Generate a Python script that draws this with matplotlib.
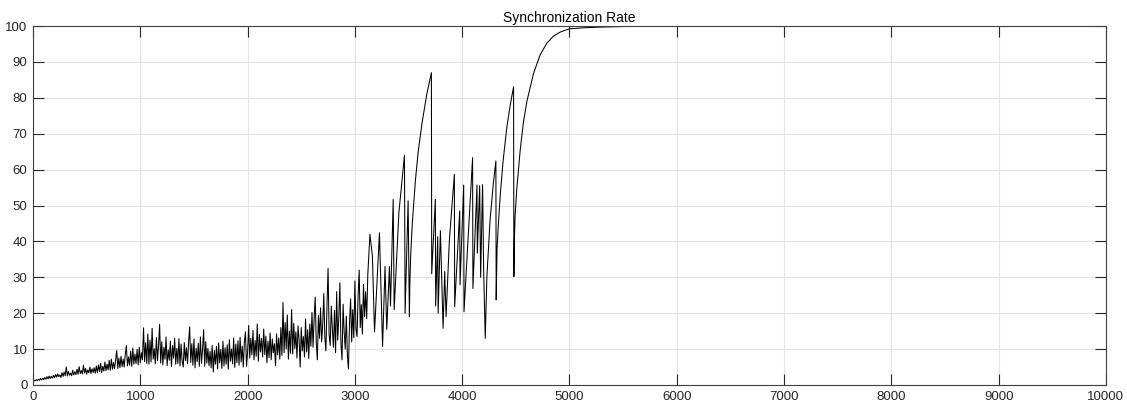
import numpy as np
import matplotlib.pyplot as plt

plt.rcParams["font.family"] = ["Liberation Sans", "DejaVu Sans"]

# noisy phase, one value every 10 steps
early_rate = [
    1.0, 1.3, 1.1, 1.5, 1.2, 1.6, 1.3, 1.8, 1.4, 1.9, 1.5, 2.1, 1.6, 2.3, 1.7, 2.5, 1.8, 2.4, 1.9, 2.7,
    2.0, 2.9, 2.2, 3.1, 2.3, 2.8, 2.1, 3.4, 2.4, 3.6, 2.6, 5.0, 2.5, 3.8, 2.7, 3.3, 2.6, 4.1, 2.8, 3.7,
    2.9, 4.4, 3.0, 5.1, 3.2, 4.0, 3.1, 5.5, 3.3, 4.6, 3.0, 4.2, 3.4, 5.0, 3.2, 4.5, 3.5, 4.8, 3.3, 5.3,
    3.4, 5.6, 3.7, 6.0, 3.5, 5.2, 3.9, 6.4, 4.0, 5.8, 4.2, 6.9, 4.1, 7.2, 4.4, 6.3, 4.5, 7.0, 9.6, 4.6,
    7.5, 4.8, 8.0, 5.1, 7.2, 5.0, 8.6, 11.0, 5.3, 7.8, 5.5, 9.4, 5.2, 10.3, 5.8, 8.6, 6.0, 9.9, 5.6, 10.5,
    6.2, 9.0, 7.0, 15.9, 6.5, 11.8, 6.0, 14.2, 5.8, 12.5, 6.4, 15.8, 7.2, 10.1, 5.9, 13.2, 6.8, 11.0, 16.9, 6.1,
    12.0, 5.6, 10.5, 7.2, 13.4, 5.4, 9.8, 6.9, 12.2, 5.1, 11.0, 7.5, 13.0, 5.8, 10.2, 6.0, 12.9, 5.3, 11.4, 6.6,
    5.0, 11.8, 6.8, 10.4, 5.9, 12.0, 16.2, 6.3, 11.5, 5.5, 12.8, 4.8, 10.2, 6.5, 11.6, 5.2, 13.4, 6.0, 9.8, 15.4,
    5.2, 12.1, 6.1, 10.2, 5.4, 9.4, 4.8, 11.0, 3.6, 9.6, 5.8, 10.8, 4.5, 11.7, 6.2, 9.9, 4.6, 12.2, 5.3, 10.4,
    5.8, 11.2, 4.4, 12.6, 6.6, 10.0, 5.9, 13.1, 4.9, 11.4, 6.2, 12.3, 5.5, 13.3, 6.4, 10.8, 5.0, 12.0, 14.8, 5.2,
    9.2, 16.6, 7.5, 13.0, 8.4, 15.2, 7.0, 12.4, 8.0, 17.0, 6.6, 14.1, 9.2, 13.0, 7.8, 15.6, 8.5, 13.6, 6.2, 12.2,
    7.6, 14.5, 7.0, 12.8, 9.0, 11.5, 5.4, 14.2, 8.4, 13.1, 7.2, 16.0, 8.2, 23.0, 9.0, 17.4, 10.1, 19.5, 7.2, 15.0,
    8.8, 21.0, 8.6, 17.2, 10.2, 14.8, 7.5, 16.5, 12.5, 5.0, 16.0, 9.5, 13.5, 7.8, 18.4, 9.2, 15.4, 7.4, 17.0, 10.8,
    20.2, 10.5, 18.6, 24.5, 11.8, 7.0, 19.4, 13.0, 21.5, 12.0, 16.8, 25.5, 13.2, 9.5, 22.4, 32.5, 14.0, 11.0, 22.0, 15.4,
    10.5, 20.8, 9.0, 26.0, 12.5, 18.6, 28.5, 11.4, 7.0, 22.5, 14.8, 10.0, 19.2, 8.2, 4.5, 17.6, 24.0, 12.0, 21.0, 13.2,
    29.0, 15.6, 13.5, 24.8, 32.0, 16.0, 22.4, 14.2, 28.0, 19.0, 26.0, 18.5, 30.5,
]
early_step = np.arange(len(early_rate)) * 10

# sawtooth phase and final convergence
late_step = [3140, 3163, 3183, 3229, 3258, 3281, 3297, 3322, 3332, 3357, 3366,
             3410, 3462, 3468, 3496, 3508, 3512, 3520, 3535, 3550, 3564,
             3590, 3626, 3670, 3713, 3716, 3750, 3753, 3772, 3776, 3797,
             3822, 3837, 3850, 3880, 3927, 3930, 3977, 3980, 4014, 4017,
             4097, 4100, 4138, 4141, 4163, 4172, 4190, 4200, 4215, 4230,
             4260, 4290, 4314, 4317, 4325, 4340, 4355, 4380, 4417, 4448,
             4479, 4482, 4486, 4493, 4510, 4541, 4570, 4603, 4665, 4727,
             4789, 4851, 4913, 4996, 5130, 5285, 5560]
late_rate = [42.0, 36.0, 14.8, 42.4, 10.7, 33.0, 15.5, 33.0, 22.0, 51.7, 21.0,
             48.0, 64.0, 20.0, 51.3, 19.0, 28.0, 36.0, 45.0, 51.0, 57.0,
             65.0, 73.0, 81.0, 87.0, 31.0, 51.7, 22.0, 41.3, 20.0, 43.0,
             15.8, 31.6, 19.0, 40.0, 58.7, 21.8, 48.5, 27.9, 55.7, 20.4,
             63.3, 26.9, 55.7, 36.7, 55.5, 30.0, 55.8, 32.0, 13.0, 30.0,
             46.0, 56.0, 62.4, 23.7, 38.0, 46.0, 53.0, 62.0, 72.0, 78.0,
             83.1, 30.2, 40.0, 47.0, 55.0, 65.5, 73.0, 79.0, 86.8, 92.0,
             95.2, 97.2, 98.3, 99.2, 99.5, 99.7, 99.9]

steps = np.concatenate([early_step, late_step])
rate = np.concatenate([early_rate, late_rate])

fig = plt.figure(figsize=(11.27, 4.09), dpi=100)
ax = fig.add_axes([0.0293, 0.0587, 0.952, 0.8777])
ax.plot(steps, rate, color="black", linewidth=0.75)

ax.set_xlim(0, 10000)
ax.set_ylim(0, 100)
ax.set_xticks(range(0, 10001, 1000))
ax.set_yticks(range(0, 101, 10))
ax.grid(True, color="#e3e3e3", linewidth=0.8)
ax.set_axisbelow(True)
ax.tick_params(direction="in", length=8, width=0.8, colors="#262626",
               labelsize=9.5, top=True, right=True, pad=4)
for s in ax.spines.values():
    s.set_color("#404040")
    s.set_linewidth(0.8)
ax.set_title("Synchronization Rate", fontsize=10, pad=3)

fig.savefig("out.png", dpi=100)
